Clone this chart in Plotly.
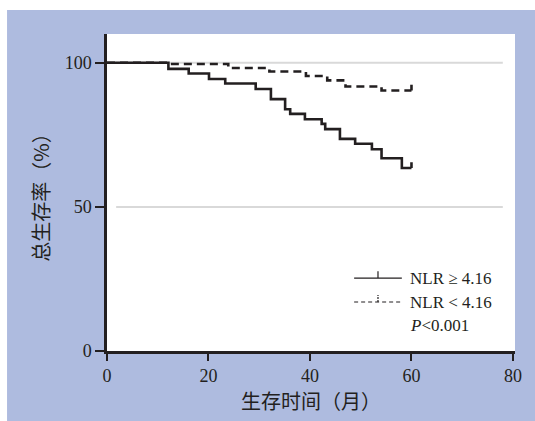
import plotly.graph_objects as go

# Kaplan-Meier step data (months, survival %)
high_t = [0, 12.1, 16.1, 20.1, 23.3, 29.3, 32.3, 35.1, 36.1, 39.0, 42.3, 43.0, 45.9, 48.9, 52.2, 54.1, 58.1, 60.0]
high_s = [100, 97.9, 96.3, 94.4, 92.8, 90.9, 87.4, 83.9, 82.3, 80.4, 78.8, 77.0, 73.6, 71.9, 70.0, 66.9, 63.5, 63.5]
low_t = [0, 12.3, 23.9, 32.0, 39.2, 43.4, 47.0, 54.1, 60.0]
low_s = [100, 99.6, 98.2, 97.0, 95.4, 93.9, 91.8, 90.4, 90.4]

x_ticks = [0, 20, 40, 60, 80]
y_ticks = [0, 50, 100]
grid_vals = [50, 100]
legend_labels = ["NLR ≥ 4.16", "NLR < 4.16"]
p_text = "<i>P</i>&lt;0.001"
x_title = "生存时间（月）"
y_title = "总生存率（%）"

BLUE = "#aebbdf"
INK = "#231f20"
SERIF = "Liberation Serif, Times New Roman, serif"
CJK = "Noto Sans CJK SC, sans-serif"
CENSOR = 2.0

fig = go.Figure()

# grid lines (short, light gray)
for g in grid_vals:
    fig.add_shape(type="line", xref="x", yref="y", x0=1.8, x1=78, y0=g, y1=g,
                  line=dict(color="#d9d9d9", width=2), layer="below")

styles = [dict(color=INK, width=2.6), dict(color=INK, width=2.6, dash="8px,5px")]
for t, s, st in [(high_t, high_s, styles[0]), (low_t, low_s, styles[1])]:
    fig.add_trace(go.Scatter(x=t, y=s, mode="lines", line=dict(shape="hv", **st),
                             showlegend=False, hoverinfo="skip"))
    # censor tick at the end of follow-up
    fig.add_trace(go.Scatter(x=[t[-1], t[-1]], y=[s[-1], s[-1] + CENSOR], mode="lines",
                             line=dict(color=INK, width=2.6), showlegend=False, hoverinfo="skip"))

# custom legend
leg_x0, leg_x1, leg_tx = 48.7, 58.1, 59.3
leg_y = [25.3, 17.0]
for yy, st, lab in zip(leg_y, styles, legend_labels):
    fig.add_shape(type="line", xref="x", yref="y", x0=leg_x0, x1=leg_x1, y0=yy, y1=yy,
                  line=dict(color=INK, width=1.2, dash="solid" if "dash" not in st else "4px,3px"))
    mid = (leg_x0 + leg_x1) / 2
    fig.add_shape(type="line", xref="x", yref="y", x0=mid, x1=mid, y0=yy, y1=yy + 2.4,
                  line=dict(color=INK, width=1.2, dash="solid" if "dash" not in st else "2px,1px"))
    fig.add_annotation(x=leg_tx, y=yy, xref="x", yref="y", text=lab, showarrow=False,
                       xanchor="left", yanchor="middle", font=dict(family=SERIF, size=17, color=INK))
fig.add_annotation(x=leg_tx, y=9.0, xref="x", yref="y", text=p_text, showarrow=False,
                   xanchor="left", yanchor="middle", font=dict(family=SERIF, size=17, color=INK))

# white strips at top and left of the blue panel
fig.add_shape(type="rect", xref="paper", yref="paper", x0=-0.4, x1=1.2, y0=1.0757, y1=1.3,
              fillcolor="white", line=dict(width=0))
fig.add_shape(type="rect", xref="paper", yref="paper", x0=-0.4, x1=-0.245, y0=-0.4, y1=1.3,
              fillcolor="white", line=dict(width=0))

fig.update_layout(
    width=535, height=421,
    margin=dict(l=107, r=20, t=34, b=70),
    paper_bgcolor=BLUE, plot_bgcolor="white",
    xaxis=dict(range=[0, 80.4], tickvals=x_ticks, showgrid=False, zeroline=False,
               showline=True, linecolor=INK, linewidth=2.5, ticks="outside", ticklen=7,
               tickwidth=2, tickcolor=INK, tickfont=dict(family=SERIF, size=18, color=INK),
               title=dict(text=x_title, font=dict(family=CJK, size=20, color=INK), standoff=4)),
    yaxis=dict(range=[0, 110], tickvals=y_ticks, showgrid=False, zeroline=False,
               showline=True, linecolor=INK, linewidth=2.5, ticks="outside", ticklen=9,
               tickwidth=2, tickcolor=INK, tickfont=dict(family=SERIF, size=18, color=INK),
               title=dict(text=y_title, font=dict(family=CJK, size=20, color=INK), standoff=10)),
)

fig.write_html("out.html", config={"displayModeBar": False},
               post_script="document.body.style.margin='0';document.body.style.overflow='hidden';")
